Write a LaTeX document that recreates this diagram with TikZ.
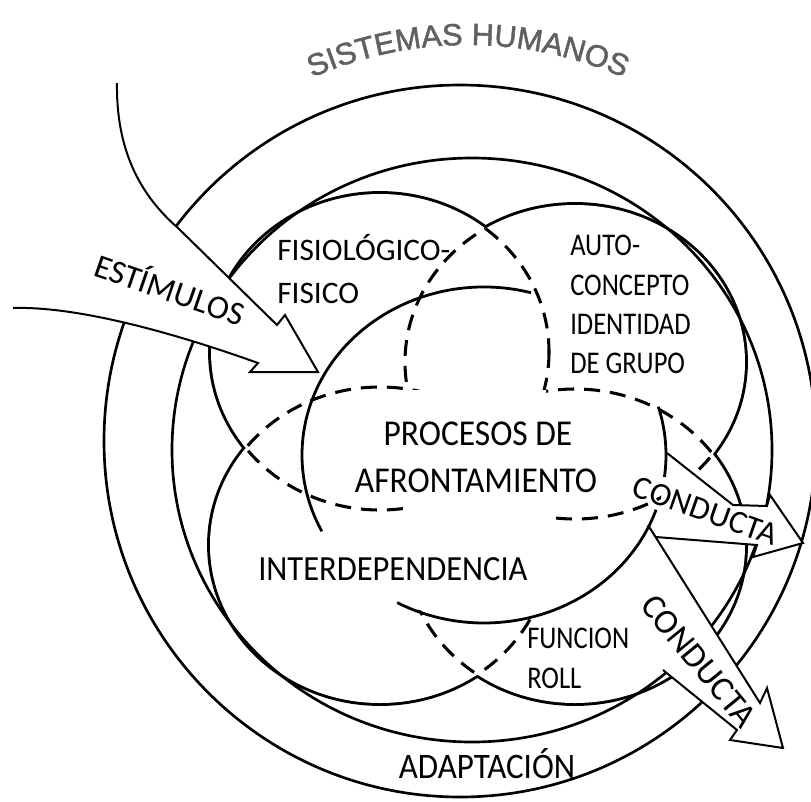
\documentclass[tikz,border=0pt]{standalone}
\usepackage{fontspec}
\setmainfont{Carlito}
\newfontfamily\titlefont[FakeBold=1.6]{Liberation Sans}
\newfontfamily\fA[FakeStretch=0.92]{Carlito}
\newfontfamily\fB[FakeStretch=0.84]{Carlito}
\def\lobeUL{(380,352) ellipse [x radius=169, y radius=158]}
\def\lobeUR{(575,362) ellipse [x radius=170, y radius=157]}
\def\lobeLL{(380,545) ellipse [x radius=170, y radius=158]}
\def\lobeLR{(575,546) ellipse [x radius=170, y radius=157]}
\begin{document}
\begin{tikzpicture}[x=0.75pt,y=-0.75pt,
  ring/.style={line width=2pt},
  dsh/.style={line width=2.3pt, dash pattern=on 12pt off 7.5pt},
  central/.style={line width=2.1pt},
  arrowshape/.style={fill=white, draw=black, line width=1.5pt, line join=miter},
  lbl/.style={inner sep=0pt, anchor=base west},
  clbl/.style={inner sep=0pt, anchor=base},
  titlech/.style={inner sep=0pt, anchor=base, text=black!62, font=\titlefont\fontsize{23}{23}\selectfont}]
\useasboundingbox (0,0) rectangle (811,801);
\fill[white] (0,0) rectangle (811,801);

% outer circle
\draw[ring] (460,441) circle [radius=356];

% four lobes: solid outer boundary, dashed hidden parts
\draw[line width=4.4pt] \lobeUL \lobeUR \lobeLL \lobeLR;
\fill[white] \lobeUL \lobeUR \lobeLL \lobeLR;
\begin{scope}\clip \lobeUR \lobeLL \lobeLR; \draw[dsh] \lobeUL; \end{scope}
\begin{scope}\clip \lobeUL \lobeLL \lobeLR; \draw[dsh] \lobeUR; \end{scope}
\begin{scope}\clip \lobeUL \lobeUR \lobeLR; \draw[dsh] \lobeLL; \end{scope}
\begin{scope}\clip \lobeUL \lobeUR \lobeLL; \draw[dsh] \lobeLR; \end{scope}

% second ring
\draw[ring] (472,450) ellipse [x radius=300, y radius=292];

% hidden areas behind the centre
\fill[white] (403,390) -- (546,390) -- (546,470) -- (553,470) -- (553,528) -- (403,528) -- cycle;
\begin{scope}
\clip (484,455) ellipse [x radius=180, y radius=166];
\fill[white] (300,527) rectangle (700,700);
\end{scope}

% stimulus arrow
\path[arrowshape] (117,83) .. controls (116,150) and (140,195) .. (178,228) -- (277,325) -- (285,315) -- (318,372) -- (250,372) -- (258,363) .. controls (180,335) and (80,306) .. (13,308);
% behaviour arrows
\path[arrowshape] (667,453) -- (733,505) -- (767,506) -- (770,495) -- (803,543) -- (753,557) -- (757,545) -- (656,537);
\path[arrowshape] (648,525) -- (760,703) -- (767,688) -- (783,748) -- (730,740) -- (737,730) -- (663,670);

% coping circle
\draw[central] ([shift={(484,455)}]-75:182 and 168) arc [start angle=-75, end angle=-207, x radius=182, y radius=168];
\draw[central] ([shift={(484,455)}]118.5:182 and 168) arc [start angle=118.5, end angle=19, x radius=182, y radius=168];
\draw[central] ([shift={(484,455)}]7.5:182 and 168) arc [start angle=7.5, end angle=-16.7, x radius=182, y radius=168];

% labels
\node[lbl, font=\fontsize{23.5}{26}\selectfont] (fisio1) at (277,260) {FISIOLÓGICO-};
\node[lbl, font=\fontsize{23.5}{26}\selectfont] (fisio2) at (277,303) {FISICO};
\node[lbl, font=\fB\fontsize{23.7}{26}\selectfont] (auto1) at (570,255) {AUTO-};
\node[lbl, font=\fB\fontsize{23.7}{26}\selectfont] (auto2) at (570,295) {CONCEPTO};
\node[lbl, font=\fB\fontsize{23.7}{26}\selectfont] (auto3) at (570,334) {IDENTIDAD};
\node[lbl, font=\fB\fontsize{23.7}{26}\selectfont] (auto4) at (570,373) {DE GRUPO};
\node[clbl, font=\fA\fontsize{27.3}{30}\selectfont] (proc1) at (478,445) {PROCESOS DE};
\node[clbl, font=\fA\fontsize{27.3}{30}\selectfont] (proc2) at (476,492) {AFRONTAMIENTO};
\node[lbl, font=\fA\fontsize{26.5}{30}\selectfont] (inter) at (258,580) {INTERDEPENDENCIA};
\node[lbl, font=\fB\fontsize{23.7}{26}\selectfont] (func1) at (527,648) {FUNCION};
\node[lbl, font=\fB\fontsize{23.7}{26}\selectfont] (func2) at (527,688) {ROLL};
\node[clbl, font=\fA\fontsize{26.9}{30}\selectfont] (adapt) at (487,778) {ADAPTACIÓN};
\node[clbl, rotate=-19, font=\fontsize{25}{28}\selectfont] (estim) at (166,301) {ESTÍMULOS};
\node[clbl, rotate=-19.4, font=\fontsize{24.5}{28}\selectfont] (cond1) at (702,521) {CONDUCTA};
\node[clbl, rotate=-50.6, font=\fontsize{26}{28}\selectfont] (cond2) at (690,668) {CONDUCTA};

% title along an arc
\foreach \ch/\ang [count=\i] in {S/-112.16, I/-110.02, S/-107.88, T/-104.98, E/-102.09, M/-98.69, A/-95.29, S/-92.26,
    H/-87.86, U/-84.58, M/-81.06, A/-77.66, N/-74.51, O/-71.11, S/-67.84}
  \node[titlech, rotate={-(\ang)-90}] (title\i) at ([shift={(468,433)}]\ang:388) {\ch};
\end{tikzpicture}
\end{document}
